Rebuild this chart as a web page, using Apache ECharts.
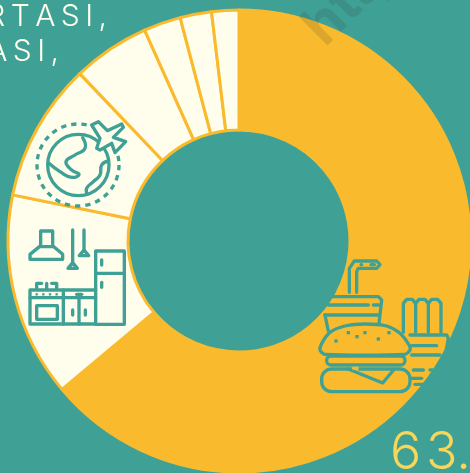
<!DOCTYPE html>
<html>
<head>
<meta charset="utf-8">
<style>html,body{margin:0;padding:0;background:#3fa196;overflow:hidden}#c{width:470px;height:473px}</style>
<script src="https://cdn.jsdelivr.net/npm/echarts@6/dist/echarts.min.js"></script>
</head>
<body>
<div id="c"></div>
<script>
// Household spending shares, clockwise from twelve o'clock
const categories = ['Makanan', 'Perumahan', 'Transportasi dan komunikasi', 'Pendidikan', 'Kesehatan', 'Pakaian', 'Lainnya'];
const shares = [63.9, 14.3, 9.7, 5.4, 2.6, 2.2, 1.9];
const sliceColors = ['#f9bb2d', '#fffdeb', '#fffdeb', '#fffdeb', '#fffdeb', '#fffdeb', '#fffdeb'];
const captionLines = ['TRANSPORTASI,', 'KOMUNIKASI,'];
const headline = '63.9%';
const watermark = 'http';

const TEAL = '#3fa196', YELLOW = '#f9bb2d', CREAM = '#fffdeb';
const THIN = '\u2009', HAIR = '\u200a';
const spaced = (s, gap) => Array.from(s).join(gap);

// Small drawing helpers for the line icons
const Z = 5;
const line = { stroke: TEAL, lineWidth: 10, fill: null, lineCap: 'round', lineJoin: 'round' };
const pl = (pts, extra) => ({ type: 'polyline', z: Z, shape: Object.assign({ points: pts }, extra || {}), style: line });
const pg = (pts, fill, smooth) => ({ type: 'polygon', z: Z, shape: { points: pts, smooth: smooth || 0 }, style: Object.assign({}, line, { fill: fill || null }) });
const rc = (x, y, w, h, r, fill) => ({ type: 'rect', z: Z, shape: { x, y, width: w, height: h, r: r || 0 }, style: Object.assign({}, line, { fill: fill || null }) });
const dot = (x, y, s) => ({ type: 'rect', z: Z, shape: { x: x - s / 2, y: y - s / 2, width: s, height: s }, style: { fill: TEAL } });
const third = 1 / 3;

const kitchen = {
  type: 'group', x: 25, y: 225, scaleX: third, scaleY: third,
  children: [
    pg([[47, 18], [83, 18], [83, 62], [113, 88], [113, 103], [15, 103], [15, 88], [47, 62]]),
    pl([[47, 65], [83, 65]]),
    pl([[143, 15], [143, 112]]),
    pg([[143, 113], [157, 130], [129, 130]]),
    pl([[177, 15], [177, 74]]),
    pg([[177, 75], [191, 92], [163, 92]]),
    rc(212, 78, 86, 220),
    pl([[212, 145], [298, 145]]),
    pl([[230, 105], [230, 120]]),
    pl([[230, 172], [230, 187]]),
    pl([[212, 195], [15, 195], [15, 297], [212, 297]]),
    pl([[15, 218], [212, 218]]),
    pl([[115, 195], [115, 297]]),
    pl([[162, 218], [162, 297]]),
    rc(35, 242, 62, 41),
    pl([[35, 190], [35, 175], [50, 175]]),
    pl([[65, 190], [65, 175]]),
    pl([[80, 175], [95, 175], [95, 190]]),
    dot(35, 208, 7), dot(55, 208, 7), dot(75, 208, 7), dot(95, 208, 7),
    pl([[155, 208], [170, 208]]),
    pl([[143, 255], [143, 270]]),
    pl([[181, 255], [181, 270]])
  ]
};

const travel = {
  type: 'group', x: 30, y: 115, scaleX: third, scaleY: third,
  children: [
    { type: 'circle', z: Z, shape: { cx: 144, cy: 150, r: 123 }, style: Object.assign({}, line, { lineDash: [16, 15], lineCap: 'butt' }) },
    { type: 'circle', z: Z, shape: { cx: 145, cy: 150, r: 92 }, style: line },
    pl([[158, 68], [165, 100], [135, 120], [108, 140], [125, 165], [147, 178], [125, 187], [90, 170], [57, 145]], { smooth: 0.5 }),
    pl([[235, 138], [215, 150], [210, 180], [190, 200], [170, 220], [172, 238]], { smooth: 0.5 }),
    pg([[185, 30], [205, 20], [232, 47], [275, 27], [280, 37], [250, 67], [287, 80], [255, 113], [245, 85], [210, 105], [200, 100], [210, 70]], CREAM)
  ]
};

const meal = {
  type: 'group', x: 315, y: 255, scaleX: third, scaleY: third,
  children: [
    // straw
    pl([[103, 112], [103, 40], [118, 18], [185, 18], [195, 29], [185, 40], [130, 40], [125, 50], [125, 112]]),
    pl([[138, 29], [140, 29]]), pl([[168, 29], [178, 29]]),
    // cup
    pl([[40, 125], [190, 125], [200, 135], [192, 205]]),
    pl([[40, 150], [160, 150]]), pl([[175, 150], [192, 150]]),
    pl([[30, 180], [192, 180]]),
    pl([[30, 180], [40, 228]]),
    // fries
    pl([[265, 232], [265, 145], [275, 133], [292, 133], [302, 145], [302, 232]]),
    pl([[302, 145], [312, 133], [330, 133], [340, 145], [340, 232]]),
    pl([[340, 145], [350, 133], [368, 133], [378, 145], [378, 232]]),
    // fry box
    pl([[285, 240], [395, 240], [400, 250], [375, 390]]),
    pl([[290, 272], [365, 272]]), pl([[290, 300], [375, 300]]),
    pl([[295, 345], [325, 345]]), pl([[345, 345], [360, 345]]),
    pl([[290, 370], [320, 370]]), pl([[300, 388], [350, 388]]),
    // burger
    pg([[15, 285], [22, 262], [45, 232], [90, 213], [150, 207], [215, 213], [255, 235], [282, 270], [285, 285], [270, 298], [30, 298]], YELLOW, 0.25),
    dot(63, 258, 10), dot(100, 233, 10), dot(126, 245, 10), dot(150, 233, 10), dot(190, 252, 10), dot(222, 233, 10),
    rc(35, 303, 235, 27, 13, YELLOW),
    rc(20, 342, 265, 68, 30, YELLOW),
    // cheese slice: the bun's top edge breaks where the slice starts
    { type: 'rect', z: Z, shape: { x: 112, y: 335, width: 18, height: 14 }, style: { fill: YELLOW } },
    pl([[100, 342], [203, 384], [238, 342]]),
    { type: 'rect', z: Z, shape: { x: 112, y: 338, width: 18, height: 6 }, style: { fill: YELLOW } }
  ]
};

const textStyle = (text, fill, size, weight, align) => ({
  text, fill, fontSize: size, fontWeight: weight, fontFamily: 'Inter', textAlign: align, textVerticalAlign: 'middle'
});

const chart = echarts.init(document.getElementById('c'), null, { renderer: 'canvas' });
chart.setOption({
  backgroundColor: TEAL,
  animation: false,
  series: [{
    type: 'pie',
    center: [239, 241],
    radius: [111, 231],
    startAngle: 90,
    clockwise: true,
    silent: true,
    label: { show: false },
    labelLine: { show: false },
    itemStyle: { borderColor: YELLOW, borderWidth: 3 },
    data: categories.map((name, i) => ({ name, value: shares[i], itemStyle: { color: sliceColors[i] } }))
  }],
  graphic: { elements: [
    kitchen, travel, meal,
    { type: 'text', x: 107, y: 17, z: 10, style: textStyle(spaced(captionLines[0], THIN), CREAM, 30, 300, 'right') },
    { type: 'text', x: 59, y: 52, z: 10, style: textStyle(spaced(captionLines[1], THIN), CREAM, 30, 300, 'right') },
    { type: 'text', x: 390, y: 453, z: 10, style: textStyle(headline[0] + HAIR + headline.slice(1), '#f7d65a', 52, 300, 'left') },
    { type: 'text', x: 313, y: 36, rotation: Math.PI / 4, z: 11, style: textStyle(watermark, 'rgba(40,40,40,0.14)', 56, 700, 'left') }
  ] }
});
</script>
</body>
</html>
